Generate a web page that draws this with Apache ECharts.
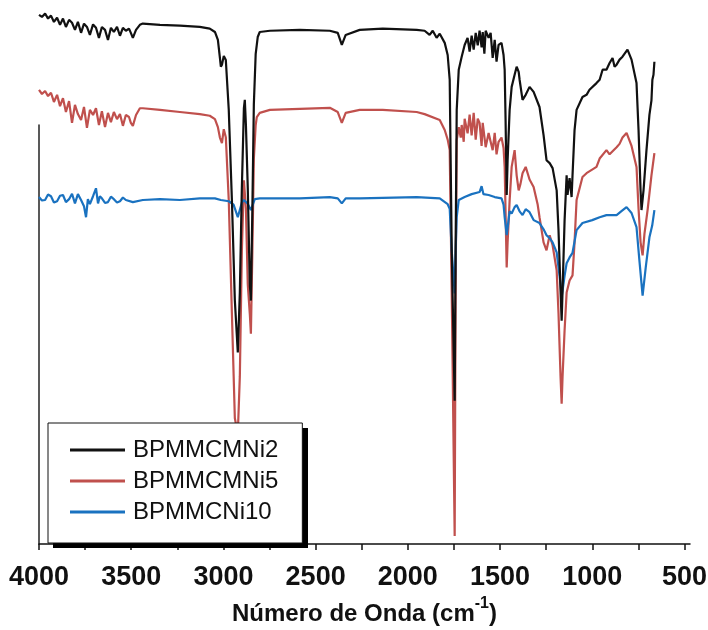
<!DOCTYPE html>
<html><head><meta charset="utf-8">
<script src="https://cdn.jsdelivr.net/npm/echarts@6/dist/echarts.min.js"></script>
<style>html,body{margin:0;padding:0;background:#fff}#c{width:708px;height:630px}</style>
</head><body><div id="c"></div>
<script>
// Wavenumber (cm-1) vs offset transmittance (a.u.)
const xTickLabels = [4000, 3500, 3000, 2500, 2000, 1500, 1000, 500];
const xTickMarks = [4000, 3750, 3500, 3250, 3000, 2750, 2500, 2250, 2000, 1750, 1500, 1250, 1000, 750, 500];
const seriesNames = ['BPMMCMNi2', 'BPMMCMNi5', 'BPMMCNi10'];

const dataNi2 = [
 [4000,126.3],[3984,125.8],[3967,126.6],[3951,125.4],[3935,126.1],[3919,124.6],[3902,125.6],[3886,123.9],[3870,125.4],[3854,123.4],
 [3837,125.1],[3821,124.4],[3805,122.7],[3789,124.6],[3772,122.0],[3756,124.2],[3740,123.4],[3724,121.5],[3707,124.0],[3691,123.2],
 [3675,120.8],[3659,123.4],[3642,122.7],[3626,120.3],[3610,123.2],[3594,122.2],[3577,123.4],[3561,121.3],[3545,123.2],[3529,122.5],
 [3512,123.0],[3502,122.0],[3491,120.8],[3474,122.7],[3453,123.9],[3437,124.2],[3344,123.9],[3236,123.7],[3128,123.4],[3074,123.0],
 [3046,122.2],[3030,120.3],[3019,116.0],[3014,113.9],[3008,114.4],[2998,116.5],[2987,115.5],[2971,103.6],[2954,82.1],[2938,58.1],
 [2922,45.7],[2911,60.0],[2900,85.0],[2889,104.0],[2884,106.0],[2878,100.0],[2868,85.0],[2857,62.0],[2851,58.1],[2843,80.0],
 [2835,105.0],[2825,117.0],[2814,121.0],[2803,122.2],[2748,122.5],[2586,122.7],[2423,122.5],[2380,122.0],[2358,119.1],[2337,121.5],
 [2261,122.7],[2136,123.0],[1952,122.7],[1909,122.5],[1882,121.5],[1865,122.5],[1844,120.8],[1827,121.8],[1800,119.6],[1784,116.7],
 [1773,110.8],[1762,70.1],[1746,34.2],[1741,70.1],[1735,103.6],[1724,113.2],[1708,116.3],[1692,119.1],[1676,120.8],[1665,117.5],
 [1654,121.3],[1643,118.0],[1632,122.0],[1621,119.0],[1611,122.5],[1600,118.5],[1594,122.2],[1585,117.0],[1578,122.5],[1562,120.8],
 [1551,122.0],[1540,116.0],[1529,120.3],[1519,115.1],[1508,119.1],[1492,119.6],[1481,116.7],[1475,113.2],[1470,101.2],[1464,83.3],
 [1459,91.6],[1448,103.6],[1437,109.1],[1421,112.0],[1410,113.9],[1399,112.7],[1394,110.8],[1378,106.0],[1361,107.2],[1340,109.1],
 [1318,107.9],[1286,104.3],[1264,97.6],[1248,91.6],[1231,90.9],[1215,89.7],[1193,84.4],[1183,74.9],[1172,60.5],[1166,53.3],
 [1161,60.5],[1150,77.3],[1139,88.0],[1134,83.3],[1123,87.3],[1112,82.8],[1107,88.0],[1096,98.8],[1085,103.6],[1053,106.7],
 [1031,107.2],[1015,108.4],[977,110.0],[960,110.8],[944,113.2],[923,113.2],[906,114.8],[890,116.0],[879,113.9],[868,114.4],
 [852,115.6],[836,116.3],[809,118.0],[787,115.6],[760,110.0],[749,98.8],[738,84.4],[733,79.7],[722,84.4],[706,94.0],
 [690,102.4],[679,105.9],[674,110.8],[668,112.0],[663,115.1]
];

const dataNi5 = [
 [4000,108.4],[3984,107.4],[3967,108.1],[3951,106.9],[3935,107.7],[3919,105.5],[3902,107.2],[3886,104.5],[3870,106.4],[3854,103.1],
 [3837,105.7],[3821,100.5],[3805,104.8],[3789,102.6],[3772,101.2],[3756,104.3],[3740,99.3],[3724,103.6],[3707,102.4],[3691,104.0],
 [3675,100.0],[3659,103.3],[3642,99.5],[3626,102.9],[3610,100.7],[3594,103.1],[3577,101.4],[3561,102.6],[3545,99.8],[3529,102.4],
 [3512,101.9],[3502,100.5],[3491,99.8],[3474,102.4],[3453,104.0],[3437,104.0],[3344,103.6],[3236,103.1],[3128,102.6],[3074,102.2],
 [3046,101.4],[3030,99.5],[3019,97.0],[3008,95.7],[2998,99.0],[2987,97.1],[2971,82.0],[2954,55.0],[2938,30.0],[2922,26.3],
 [2911,40.0],[2900,70.0],[2889,86.8],[2884,86.8],[2878,80.0],[2868,62.0],[2857,55.0],[2851,50.2],[2843,70.0],[2835,92.0],
 [2825,100.0],[2819,101.9],[2803,102.9],[2748,103.6],[2423,104.1],[2380,103.1],[2358,100.5],[2337,102.9],[2261,103.6],[2136,103.6],
 [1952,103.1],[1909,102.6],[1827,101.2],[1800,98.8],[1784,96.5],[1773,94.0],[1762,60.0],[1746,1.9],[1741,60.0],[1735,96.4],
 [1724,99.5],[1713,97.0],[1708,100.0],[1697,96.0],[1692,101.5],[1676,98.0],[1665,102.5],[1654,97.5],[1643,102.9],[1632,96.5],
 [1621,101.5],[1611,100.5],[1600,95.0],[1594,100.5],[1578,94.7],[1562,98.1],[1551,96.0],[1540,94.0],[1529,98.1],[1519,93.0],
 [1508,96.0],[1492,97.0],[1481,94.5],[1475,90.0],[1464,66.0],[1459,72.0],[1448,82.0],[1437,90.0],[1421,94.0],[1410,88.0],
 [1399,84.4],[1389,86.0],[1378,88.5],[1361,90.0],[1340,87.0],[1318,85.2],[1296,81.0],[1286,78.0],[1264,72.0],[1248,70.1],
 [1231,73.7],[1215,71.3],[1193,65.3],[1183,55.0],[1172,40.0],[1166,33.5],[1161,40.0],[1150,51.0],[1139,60.0],[1123,62.9],
 [1107,64.1],[1096,72.0],[1085,82.1],[1053,87.6],[1031,88.5],[977,90.0],[960,92.0],[923,94.0],[906,93.0],[868,94.7],
 [852,95.5],[836,97.0],[814,98.1],[787,95.0],[760,90.0],[749,80.0],[738,72.0],[727,68.9],[717,74.0],[700,79.7],
 [679,88.0],[663,93.3]
];

const dataNi10 = [
 [4000,82.8],[3984,82.0],[3967,82.1],[3951,83.4],[3935,83.0],[3919,81.5],[3902,81.8],[3886,83.1],[3870,83.3],[3854,81.6],
 [3837,82.3],[3821,83.6],[3805,81.3],[3789,83.5],[3772,82.1],[3756,80.6],[3745,78.0],[3735,82.3],[3724,81.1],[3707,83.0],
 [3691,84.9],[3680,81.3],[3670,83.0],[3659,82.5],[3642,81.4],[3626,81.6],[3610,82.9],[3594,82.3],[3577,81.5],[3561,81.8],
 [3545,82.7],[3529,82.1],[3491,81.6],[3437,82.1],[3344,82.3],[3236,82.1],[3128,82.5],[3046,82.5],[3014,82.1],[2971,81.8],
 [2945,81.0],[2922,78.0],[2900,81.5],[2889,82.1],[2870,81.3],[2851,79.7],[2830,82.3],[2803,82.5],[2586,82.5],[2423,82.8],
 [2380,82.5],[2358,81.3],[2337,82.5],[2261,82.5],[1952,82.8],[1827,82.5],[1784,81.1],[1773,80.0],[1762,70.0],[1746,59.8],
 [1741,70.0],[1735,78.0],[1724,82.1],[1692,82.8],[1654,83.5],[1611,84.0],[1600,85.4],[1590,83.5],[1562,83.3],[1529,82.8],
 [1492,82.5],[1481,81.0],[1475,78.0],[1464,73.7],[1448,79.4],[1437,78.9],[1421,80.4],[1410,80.9],[1394,79.4],[1378,78.5],
 [1361,79.9],[1340,79.2],[1318,77.3],[1286,76.6],[1264,75.1],[1248,73.7],[1231,73.0],[1215,72.0],[1193,69.6],[1172,62.0],
 [1166,58.9],[1150,64.0],[1139,67.0],[1123,68.4],[1107,69.5],[1085,74.9],[1053,76.6],[1000,77.3],[960,78.0],[923,78.5],
 [868,78.5],[840,79.5],[814,80.4],[787,79.0],[760,75.6],[745,68.0],[727,59.3],[710,66.0],[690,73.2],[675,76.0],
 [663,79.7]
];

const colors = ['#111111', '#c0504d', '#1a72c0'];
const chart = echarts.init(document.getElementById('c'), null, {renderer: 'canvas'});
const FONT = '"Liberation Sans", Arial, sans-serif';

function mk(name, data, color, z) {
  return {
    name, type: 'line', data, symbol: 'none', showSymbol: false, clip: false,
    z, lineStyle: {color, width: 2.2}, itemStyle: {color}, animation: false
  };
}

chart.setOption({
  animation: false,
  backgroundColor: '#ffffff',
  grid: {left: 39, right: 18, top: 125, bottom: 86, containLabel: false, outerBoundsMode: 'none'},
  xAxis: {
    type: 'value', inverse: true, min: 470, max: 4000,
    axisLine: {show: true, lineStyle: {color: '#111', width: 1.5}},
    axisTick: {show: true, customValues: xTickMarks, length: 6, lineStyle: {color: '#111', width: 1.5}},
    axisLabel: {show: true, customValues: xTickLabels, margin: 20, fontSize: 27, fontWeight: 'bold', color: '#111', fontFamily: FONT,
      formatter: v => String(v)},
    splitLine: {show: false},
    name: '{a|Número de Onda (cm}{sup|-1}{a|)}',
    nameLocation: 'middle', nameGap: 51,
    nameTextStyle: {
      fontFamily: FONT,
      rich: {
        a: {fontSize: 24, fontWeight: 'bold', color: '#111', fontFamily: FONT, lineHeight: 30, verticalAlign: 'bottom'},
        sup: {fontSize: 16, fontWeight: 'bold', color: '#111', fontFamily: FONT, lineHeight: 30, verticalAlign: 'top'}
      }
    }
  },
  yAxis: {
    type: 'value', min: 0, max: 100,
    axisLine: {show: true, lineStyle: {color: '#222', width: 1.5}},
    axisTick: {show: false}, axisLabel: {show: false}, splitLine: {show: false}
  },
  graphic: [{
    type: 'rect', z: 3, silent: true,
    shape: {x: 53, y: 428, width: 255, height: 120},
    style: {fill: '#000'}
  }],
  legend: {
    orient: 'vertical', left: 48, top: 423, z: 5,
    data: seriesNames,
    icon: 'rect',
    itemWidth: 55, itemHeight: 3, itemGap: 7,
    padding: [15, 24, 19, 22],
    backgroundColor: '#ffffff', borderColor: '#111', borderWidth: 1,
    textStyle: {fontSize: 24, color: '#111', fontFamily: FONT, lineHeight: 24, padding: [0, 0, 0, 3]}
  },
  series: [
    mk(seriesNames[0], dataNi2, colors[0], 4),
    mk(seriesNames[1], dataNi5, colors[1], 2),
    mk(seriesNames[2], dataNi10, colors[2], 3)
  ]
});
</script></body></html>
